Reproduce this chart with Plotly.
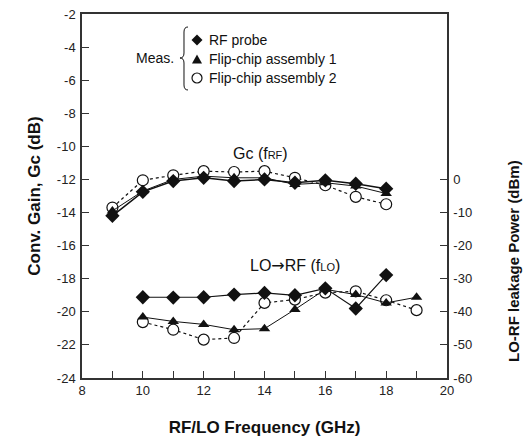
import plotly.graph_objects as go

# ---------------- data ----------------
freq_gc = [9, 10, 11, 12, 13, 14, 15, 16, 17, 18]
gc_probe = [-14.2, -12.75, -12.1, -11.9, -12.1, -12.0, -12.2, -12.05, -12.26, -12.56]
gc_asm1 = [-13.9, -12.7, -12.0, -11.8, -11.9, -11.9, -12.3, -12.2, -12.4, -12.85]
gc_asm2 = [-13.7, -12.05, -11.75, -11.5, -11.55, -11.5, -11.9, -12.35, -13.05, -13.5]

freq_lo_probe = [10, 11, 12, 13, 14, 15, 16, 17, 18]
lo_probe = [-35.6, -35.7, -35.6, -34.8, -34.3, -35.0, -32.9, -39.0, -28.9]
freq_lo_asm = [10, 11, 12, 13, 14, 15, 16, 17, 18, 19]
lo_asm1 = [-41.6, -42.9, -43.8, -45.4, -45.1, -39.3, -33.2, -34.8, -37.3, -35.6]
lo_asm2 = [-43.1, -45.4, -48.4, -47.9, -37.3, -36.3, -34.2, -33.8, -36.5, -39.5]

x_ticks = [8, 10, 12, 14, 16, 18, 20]
x_ticktext = ["8", "10", "12", "14", "16", "18", "20"]
y_ticks = [-24, -22, -20, -18, -16, -14, -12, -10, -8, -6, -4, -2]
y_ticktext = ["-24", "-22", "-20", "-18", "-16", "-14", "-12", "-10", "-8", "-6", "-4", "-2"]
y2_ticks = [-60, -50, -40, -30, -20, -10, 0]
y2_ticktext = ["-60", "-50", "-40", "-30", "-20", "-10", "0"]

legend_labels = ["RF probe", "Flip-chip assembly 1", "Flip-chip assembly 2"]

# ---------------- layout geometry ----------------
W, H = 523, 443
L, R, T, B = 82, 76, 14, 65
PW, PH = W - L - R, H - T - B


def px(x):
    return (x - L) / PW


def py(y):
    return (H - B - y) / PH


FONT = "Arial, Liberation Sans, sans-serif"
BLK = "#111111"
AX = "#333333"

fig = go.Figure()

circ = dict(symbol="circle", size=11, color="white", line=dict(color=BLK, width=1.2))
tri = dict(symbol="triangle-up", size=10, color=BLK)
dia = dict(symbol="diamond", size=11, color=BLK)

# Gc traces
fig.add_trace(go.Scatter(x=freq_gc, y=gc_asm2, mode="lines+markers",
                         line=dict(color=BLK, width=1.2, dash="dot"), marker=circ,
                         showlegend=False))
fig.add_trace(go.Scatter(x=freq_gc, y=gc_asm1, mode="lines+markers",
                         line=dict(color=BLK, width=1.0), marker=tri, showlegend=False))
fig.add_trace(go.Scatter(x=freq_gc, y=gc_probe, mode="lines+markers",
                         line=dict(color=BLK, width=1.5), marker=dia, showlegend=False))

# LO leakage traces (right axis)
fig.add_trace(go.Scatter(x=freq_lo_asm, y=lo_asm2, yaxis="y2", mode="lines+markers",
                         line=dict(color=BLK, width=1.2, dash="dot"), marker=circ,
                         showlegend=False))
fig.add_trace(go.Scatter(x=freq_lo_asm, y=lo_asm1, yaxis="y2", mode="lines+markers",
                         line=dict(color=BLK, width=1.0), marker=tri, showlegend=False))
fig.add_trace(go.Scatter(x=freq_lo_probe, y=lo_probe, yaxis="y2", mode="lines+markers",
                         line=dict(color=BLK, width=1.2), marker=dia, showlegend=False))

tickfont = dict(family=FONT, size=13, color="#222222")
titlefont = dict(family=FONT, size=17, color="#111111")

fig.update_layout(
    width=W, height=H,
    margin=dict(l=L, r=R, t=T, b=B, autoexpand=False),
    paper_bgcolor="white", plot_bgcolor="white",
    showlegend=False,
    xaxis=dict(range=[8, 20], tickvals=x_ticks, ticktext=x_ticktext, ticks="inside", ticklen=7,
               tickcolor=AX, tickwidth=1.2,
               minor=dict(dtick=1, ticks="inside", ticklen=7, tickcolor=AX, tickwidth=1.2),
               showline=True, linecolor=AX, linewidth=1.5, mirror=True, automargin=False,
               showgrid=False, zeroline=False, tickfont=tickfont,
               title=dict(text="<b>RF/LO Frequency (GHz)</b>", font=titlefont, standoff=24)),
    yaxis=dict(range=[-24, -2], tickvals=y_ticks, ticktext=y_ticktext, ticks="inside", ticklen=7,
               tickcolor=AX, tickwidth=1.2, showline=True, linecolor=AX, linewidth=1.5,
               showgrid=False, zeroline=False, tickfont=tickfont, ticklabelstandoff=2,
               automargin=False,
               title=dict(text="<b>Conv. Gain, Gc (dB)</b>", font=titlefont, standoff=12)),
    yaxis2=dict(range=[-60, 50], tickvals=y2_ticks, ticktext=y2_ticktext, ticks="inside", ticklen=7,
                tickcolor=AX, tickwidth=1.2, overlaying="y", side="right",
                showline=True, linecolor=AX, linewidth=1.5, automargin=False,
                showgrid=False, zeroline=False, tickfont=tickfont, ticklabelstandoff=2),
)

ann = []
ann.append(dict(text="<b>LO-RF leakage Power (dBm)</b>", textangle=-90, x=px(513), y=py(261),
                xref="paper", yref="paper", showarrow=False,
                font=dict(family=FONT, size=15, color="#111111"),
                xanchor="center", yanchor="middle"))
ann.append(dict(text="Gc (f<span style='font-size:11px'>RF</span>)", x=px(260), y=py(153),
                xref="paper", yref="paper", showarrow=False, xanchor="center", yanchor="middle",
                font=dict(family=FONT, size=16, color="#111111")))
ann.append(dict(text="LO<span style='font-family:DejaVu Sans'>\u2192</span>RF (f<span style='font-size:11px'>LO</span>)",
                x=px(295), y=py(265),
                xref="paper", yref="paper", showarrow=False, xanchor="center", yanchor="middle",
                font=dict(family=FONT, size=16, color="#111111")))
ann.append(dict(text="Meas.", x=px(176), y=py(58), xref="paper", yref="paper",
                showarrow=False, xanchor="right", yanchor="middle",
                font=dict(family=FONT, size=14, color="#111111")))
leg_y = [40, 59, 78]
for lab, yy in zip(legend_labels, leg_y):
    ann.append(dict(text=lab, x=px(207), y=py(yy), xref="paper", yref="paper",
                    showarrow=False, xanchor="left", yanchor="middle",
                    font=dict(family=FONT, size=14, color="#111111")))
fig.update_layout(annotations=ann)


def path(points, close=True):
    s = ""
    for cmd, pts in points:
        s += cmd + " " + " ".join(f"{px(a):.5f},{py(b):.5f}" for a, b in pts) + " "
    if close:
        s += "Z"
    return s


shapes = []
cx = 197
shapes.append(dict(type="path", xref="paper", yref="paper",
                   path=path([("M", [(cx, 34.5)]), ("L", [(cx + 5.5, 40)]), ("L", [(cx, 45.5)]),
                              ("L", [(cx - 5.5, 40)])]),
                   fillcolor=BLK, line=dict(width=0)))
shapes.append(dict(type="path", xref="paper", yref="paper",
                   path=path([("M", [(cx - 5, 63.5)]), ("L", [(cx + 5, 63.5)]), ("L", [(cx, 54.5)])]),
                   fillcolor=BLK, line=dict(width=0)))
shapes.append(dict(type="circle", xref="paper", yref="paper",
                   x0=px(cx - 5), x1=px(cx + 5), y0=py(83), y1=py(73),
                   fillcolor="white", line=dict(color=BLK, width=1.2)))
shapes.append(dict(type="path", xref="paper", yref="paper",
                   path=path([("M", [(188, 27)]), ("Q", [(184, 27), (184, 32)]), ("L", [(184, 53)]),
                              ("Q", [(184, 58), (180, 58)]), ("Q", [(184, 58), (184, 63)]),
                              ("L", [(184, 85)]), ("Q", [(184, 90), (188, 90)])], close=False),
                   line=dict(color=BLK, width=1)))
fig.update_layout(shapes=shapes)

fig.write_html("out.html")
